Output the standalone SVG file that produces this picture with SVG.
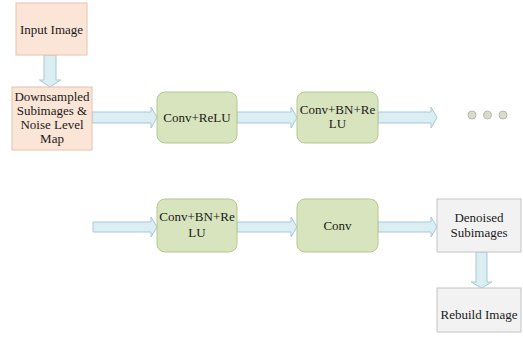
<svg xmlns="http://www.w3.org/2000/svg" width="523" height="343" viewBox="0 0 523 343">
<style>
text{font-family:"Liberation Serif","Times New Roman",serif;font-size:13px;fill:#1a1a1a;text-anchor:middle}
.peach{fill:#FBE5D6;stroke:#E6C2B1;stroke-width:1}
.green{fill:#D7E4BD;stroke:#B7C78F;stroke-width:1}
.gray{fill:#F2F2F2;stroke:#C4C4C4;stroke-width:1}
.arr{fill:#DAEEF3;stroke:#A7C9D4;stroke-width:1}
.dot{fill:#D8DDC9;stroke:#B8BEA6;stroke-width:1}
</style>
<rect width="523" height="343" fill="#ffffff"/>
<g id="connectors">
<path class="arr" d="M44,55 H56 V80 H60.5 L50,87 L39.5,80 H44 Z"/>
<path class="arr" d="M92,112 H151 V107 L157,117.5 L151,128 V123 H92 Z"/>
<path class="arr" d="M237,112 H291 V107 L297,117.5 L291,128 V123 H237 Z"/>
<path class="arr" d="M378,112 H431 V107 L437,117.5 L431,128 V123 H378 Z"/>
<path class="arr" d="M93,222 H151 V217 L157,227 L151,237 V232 H93 Z"/>
<path class="arr" d="M237,222 H291 V217 L297,227 L291,237 V232 H237 Z"/>
<path class="arr" d="M378,222 H431 V217 L437,227 L431,237 V232 H378 Z"/>
<path class="arr" d="M476,252 H487 V282 H492 L481.5,288 L471,282 H476 Z"/>
</g>
<g id="input-image"><rect class="peach" x="16" y="3" width="71" height="52"/><text x="51.5" y="34">Input Image</text></g>
<g id="downsampled"><rect class="peach" x="12" y="87" width="80" height="63"/>
<text x="52" y="101">Downsampled</text><text x="52" y="115">Subimages &amp;</text><text x="52" y="129">Noise Level</text><text x="52" y="143">Map</text></g>
<g id="conv-relu"><rect class="green" x="157" y="92" width="80" height="51" rx="8"/><text x="197" y="122">Conv+ReLU</text></g>
<g id="conv-bn-relu-1"><rect class="green" x="297" y="92" width="81" height="51" rx="8"/><text x="337.5" y="114">Conv+BN+Re</text><text x="337.5" y="128">LU</text></g>
<g id="ellipsis"><circle class="dot" cx="472" cy="115" r="4"/><circle class="dot" cx="487.5" cy="115" r="4"/><circle class="dot" cx="503" cy="115" r="4"/></g>
<g id="conv-bn-relu-2"><rect class="green" x="157" y="199" width="80" height="53" rx="8"/><text x="197" y="221">Conv+BN+Re</text><text x="197" y="237">LU</text></g>
<g id="conv"><rect class="green" x="297" y="199" width="81" height="53" rx="8"/><text x="337.5" y="230">Conv</text></g>
<g id="denoised"><rect class="gray" x="437" y="199" width="84" height="53"/><text x="479" y="222">Denoised</text><text x="479" y="237">Subimages</text></g>
<g id="rebuild"><rect class="gray" x="437" y="288" width="84" height="44"/><text x="479" y="319">Rebuild Image</text></g>
</svg>
